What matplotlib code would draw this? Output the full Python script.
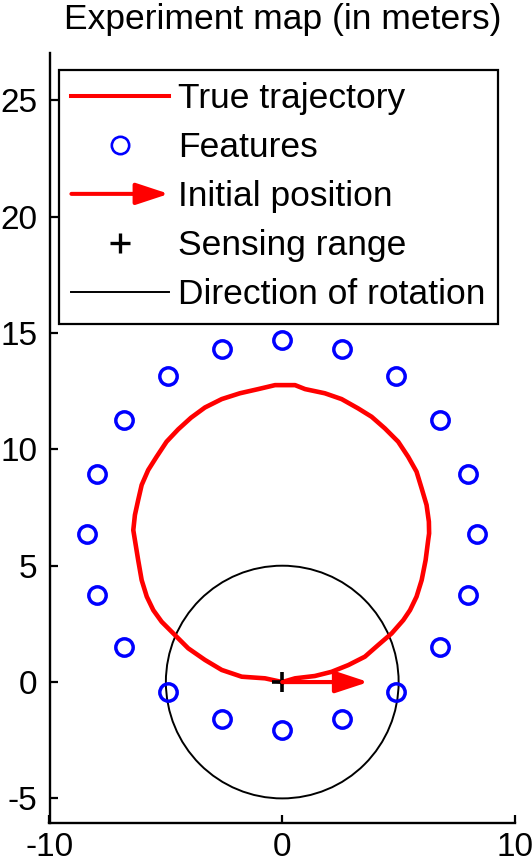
import numpy as np
import matplotlib
matplotlib.use('Agg')
import matplotlib.pyplot as plt
import matplotlib.patches as mpatches
from matplotlib.lines import Line2D
from matplotlib.legend_handler import HandlerPatch

plt.rcParams['font.family'] = ['Liberation Sans', 'DejaVu Sans']
plt.rcParams['axes.unicode_minus'] = False

# feature positions (m)
feat_x = [0.0, 2.57, 4.9, 6.78, 7.97, 8.37, 7.97, 6.78, 4.9, 2.57,
          0.0, -2.57, -4.9, -6.78, -7.97, -8.37, -7.97, -6.78, -4.9, -2.57]
feat_y = [14.7, 14.31, 13.14, 11.27, 8.92, 6.38, 3.73, 1.5, -0.41, -1.57,
          -2.07, -1.57, -0.41, 1.5, 3.73, 6.38, 8.92, 11.27, 13.14, 14.31]

# true trajectory
traj_x = [0.0, -0.74, -1.74, -2.60, -3.32, -4.04, -4.61, -5.18, -5.54, -5.82,
          -6.04, -6.19, -6.33, -6.40, -6.33, -6.19, -6.04, -5.76, -5.40, -4.97,
          -4.47, -3.92, -3.32, -2.60, -1.82, -1.03, -0.31, 0.55, 0.98, 1.83,
          2.55, 3.26, 3.84, 4.41, 4.98, 5.41, 5.77, 5.99, 6.20, 6.30,
          6.31, 6.27, 6.16, 5.99, 5.77, 5.49, 5.20, 4.70, 4.12, 3.55,
          2.84, 2.12, 1.40, 0.55, 0.0]
traj_y = [0.0, 0.16, 0.23, 0.52, 0.95, 1.45, 2.02, 2.59, 3.09, 3.67,
          4.38, 5.24, 6.10, 6.53, 7.18, 7.82, 8.47, 9.11, 9.68, 10.33,
          10.86, 11.36, 11.80, 12.16, 12.41, 12.59, 12.76, 12.76, 12.59, 12.41,
          12.16, 11.76, 11.40, 10.90, 10.33, 9.68, 9.04, 8.32, 7.61, 6.89,
          6.39, 6.10, 5.24, 4.38, 3.67, 3.09, 2.66, 2.09, 1.59, 1.09,
          0.73, 0.44, 0.26, 0.16, 0.0]

start_pos = (0.0, 0.0)
heading = (3.7, 0.0)
sensing_radius = 5.0

arrow_style = '-|>,head_length=1.0,head_width=0.33'


class HandlerArrow(HandlerPatch):
    def create_artists(self, legend, orig_handle, xdescent, ydescent,
                       width, height, fontsize, trans):
        y = 0.5 * height - ydescent
        p = mpatches.FancyArrowPatch((-xdescent, y), (width - xdescent, y),
                                     arrowstyle=arrow_style, mutation_scale=20,
                                     color='red', lw=2.9, shrinkA=0, shrinkB=0,
                                     transform=trans)
        return [p]


fig = plt.figure(figsize=(5.32, 8.64), dpi=100)
ax = fig.add_axes([49.5 / 532, (864 - 823.3) / 864, 465.5 / 532, 770 / 864])

ax.plot(traj_x, traj_y, color='red', lw=3.3, solid_joinstyle='round')
ax.add_patch(mpatches.Circle(start_pos, sensing_radius, fill=False,
                             ec='black', lw=1.4))
ax.plot(feat_x, feat_y, 'o', ls='none', mfc='none', mec='blue',
        ms=12.5, mew=2.5)
ax.annotate('', xy=(start_pos[0] + heading[0], start_pos[1] + heading[1]),
            xytext=start_pos,
            arrowprops=dict(arrowstyle=arrow_style, color='red', lw=3.0,
                            mutation_scale=20, shrinkA=0, shrinkB=0))
ax.plot([start_pos[0]], [start_pos[1]], '+', color='black', ms=14.5, mew=2.6)

ax.set_xlim(-10, 10)
ax.set_ylim(-6.07, 27.02)
ax.set_xticks([-10, 0, 10])
ax.set_yticks([-5, 0, 5, 10, 15, 20, 25])
ax.spines['top'].set_visible(False)
ax.spines['right'].set_visible(False)
for s in ['left', 'bottom']:
    ax.spines[s].set_linewidth(1.7)
ax.tick_params(direction='in', length=5.6, width=1.6, labelsize=24)
ax.tick_params(axis='y', pad=8.8)
ax.tick_params(axis='x', pad=6.5)
ax.set_title('Experiment map (in meters)', fontsize=25.5, pad=17.5)

handles = [Line2D([], [], color='red', lw=2.9),
           Line2D([], [], marker='o', ls='none', mfc='none', mec='blue',
                  ms=12.5, mew=1.9),
           mpatches.FancyArrow(0, 0, 1, 0, color='red'),
           Line2D([], [], marker='+', ls='none', color='black', ms=14.5, mew=2.4),
           Line2D([], [], color='black', lw=1.4)]
labels = ['True trajectory', 'Features', 'Initial position', 'Sensing range',
          'Direction of rotation']
leg = ax.legend(handles, labels, loc='upper left',
                bbox_to_anchor=(9.5 / 465.5, 1 - 16.7 / 770), borderaxespad=0,
                fontsize=25.5, handlelength=2.75, handletextpad=0.27,
                labelspacing=0.45, borderpad=0.35, fancybox=False,
                framealpha=1, edgecolor='black',
                handler_map={mpatches.FancyArrow: HandlerArrow()})
leg.get_frame().set_linewidth(1.6)

fig.savefig('out.png', dpi=100)
